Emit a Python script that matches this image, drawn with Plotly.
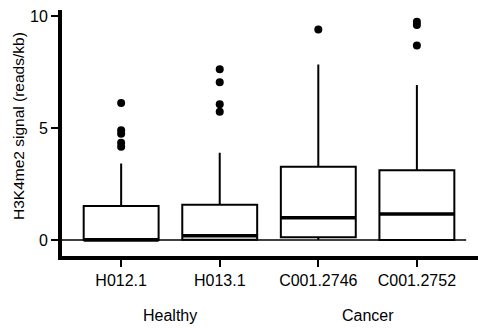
import plotly.graph_objects as go

categories = ["H012.1", "H013.1", "C001.2746", "C001.2752"]
groups = ["Healthy", "Cancer"]
group_members = [[0, 1], [2, 3]]

q1 = [0.0, 0.02, 0.13, 0.0]
median = [0.0, 0.19, 1.0, 1.16]
q3 = [1.52, 1.58, 3.27, 3.12]
lower_fence = [0.0, 0.0, 0.0, 0.0]
upper_fence = [3.42, 3.9, 7.84, 6.92]
outliers = [
    [6.12, 4.9, 4.75, 4.35, 4.17],
    [7.62, 7.04, 6.06, 5.73],
    [9.4],
    [9.75, 9.6, 8.68],
]

positions = list(range(len(categories)))
box_width = 0.76
font_family = "Liberation Sans, Arial, sans-serif"

fig = go.Figure()

for i, name in enumerate(categories):
    fig.add_trace(go.Box(
        x=[positions[i]], q1=[q1[i]], median=[median[i]], q3=[q3[i]],
        lowerfence=[lower_fence[i]], upperfence=[upper_fence[i]],
        width=box_width, fillcolor="white",
        line=dict(color="black", width=2), whiskerwidth=0,
        boxpoints=False, showlegend=False, hoverinfo="skip",
    ))
    # thicker median line
    fig.add_trace(go.Scatter(
        x=[positions[i] - box_width / 2, positions[i] + box_width / 2],
        y=[median[i], median[i]], mode="lines",
        line=dict(color="black", width=3.5), showlegend=False, hoverinfo="skip",
    ))
    fig.add_trace(go.Scatter(
        x=[positions[i]] * len(outliers[i]), y=outliers[i], mode="markers",
        marker=dict(color="black", size=8), showlegend=False, hoverinfo="skip",
    ))

# zero reference line
fig.add_shape(type="line", xref="x", yref="y", x0=-0.6, x1=3.5, y0=0, y1=0,
              line=dict(color="black", width=1.5), layer="below")

for g, members in zip(groups, group_members):
    fig.add_annotation(x=sum(members) / len(members), xref="x", y=-0.24, yref="paper",
                       text=g, showarrow=False, xanchor="center", yanchor="middle",
                       font=dict(size=16, color="black", family=font_family))

fig.add_annotation(x=-0.106, xref="paper", y=0.528, yref="paper",
                   text="H3K4me2 signal (reads/kb)", textangle=-90, showarrow=False,
                   xanchor="center", yanchor="middle",
                   font=dict(size=15.5, color="black", family=font_family))

fig.update_layout(
    width=478, height=328,
    margin=dict(l=62, r=0, t=10, b=72),
    plot_bgcolor="white", paper_bgcolor="white",
    font=dict(family=font_family, size=16, color="black"),
    xaxis=dict(range=[-0.6, 3.62], tickvals=positions, ticktext=categories,
               showline=True, linewidth=4, linecolor="black", ticks="outside",
               ticklen=7, tickwidth=1.5, tickcolor="black", showgrid=False,
               zeroline=False, tickfont=dict(size=16)),
    yaxis=dict(range=[-0.71, 10.27], tickvals=[0, 5, 10],
               showline=True, linewidth=4, linecolor="black", ticks="outside",
               ticklen=7, tickwidth=1.5, tickcolor="black", showgrid=False,
               zeroline=False, tickfont=dict(size=16)),
)

fig.write_html("out.html")
